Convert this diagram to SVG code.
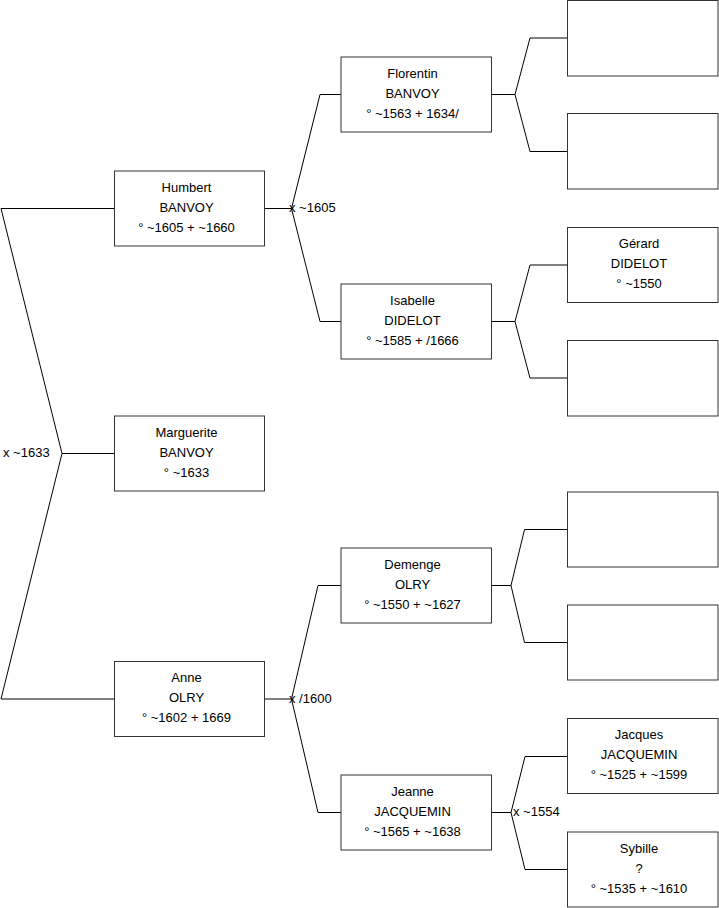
<svg xmlns="http://www.w3.org/2000/svg" width="719" height="908" viewBox="0 0 719 908">
<style>
  .box { fill: #ffffff; stroke: #333333; stroke-width: 1; }
  .conn { fill: none; stroke: #000000; stroke-width: 1; }
  text { font-family: "Liberation Sans", Arial, sans-serif; font-size: 13px; fill: #000000; }
  .c { text-anchor: middle; }
</style>
<rect width="719" height="908" fill="#ffffff"/>
<g id="connectors" class="conn">
  <path d="M1,208.5 H114 M1,208.5 L62,453.5 L1,699 M62,453.5 H114 M1,699 H114"/>
  <path d="M265,208.5 H291.5 M320,94.5 L291.5,208.5 L320,321.5 M320,94.5 H341 M320,321.5 H341"/>
  <path d="M265,699 H291.5 M318,585.5 L291.5,699 L318,812.5 M318,585.5 H341 M318,812.5 H341"/>
  <path d="M492,94.5 H515 M530,38 L515,94.5 L530,151.5 M530,38 H567 M530,151.5 H567"/>
  <path d="M492,321.5 H515 M530,265 L515,321.5 L530,378 M530,265 H567 M530,378 H567"/>
  <path d="M492,585.5 H511 M524.5,529.5 L511,585.5 L524.5,642.5 M524.5,529.5 H567 M524.5,642.5 H567"/>
  <path d="M492,812.5 H511 M525,756.5 L511,812.5 L525,869.5 M525,756.5 H567 M525,869.5 H567"/>
</g>
<g id="union-labels">
  <text x="3" y="457">x ~1633</text>
  <text x="289" y="212">x ~1605</text>
  <text x="289" y="702.5">x /1600</text>
  <text x="513" y="816">x ~1554</text>
</g>
<g id="humbert">
  <rect class="box" x="114.5" y="171" width="150" height="75"/>
  <text class="c" x="186.5" y="191.5">Humbert</text>
  <text class="c" x="186.5" y="211.5">BANVOY</text>
  <text class="c" x="186.5" y="231.5">° ~1605 + ~1660</text>
</g>
<g id="marguerite">
  <rect class="box" x="114.5" y="416" width="150" height="75"/>
  <text class="c" x="186.5" y="436.5">Marguerite</text>
  <text class="c" x="186.5" y="456.5">BANVOY</text>
  <text class="c" x="186.5" y="476.5">° ~1633</text>
</g>
<g id="anne">
  <rect class="box" x="114.5" y="661.5" width="150" height="75"/>
  <text class="c" x="186.5" y="682">Anne</text>
  <text class="c" x="186.5" y="702">OLRY</text>
  <text class="c" x="186.5" y="722">° ~1602 + 1669</text>
</g>
<g id="florentin">
  <rect class="box" x="341" y="57" width="150.5" height="75"/>
  <text class="c" x="412.5" y="77.5">Florentin</text>
  <text class="c" x="412.5" y="97.5">BANVOY</text>
  <text class="c" x="412.5" y="117.5">° ~1563 + 1634/</text>
</g>
<g id="isabelle">
  <rect class="box" x="341" y="284" width="150.5" height="75"/>
  <text class="c" x="412.5" y="304.5">Isabelle</text>
  <text class="c" x="412.5" y="324.5">DIDELOT</text>
  <text class="c" x="412.5" y="344.5">° ~1585 + /1666</text>
</g>
<g id="demenge">
  <rect class="box" x="341" y="548" width="150.5" height="75"/>
  <text class="c" x="412.5" y="568.5">Demenge</text>
  <text class="c" x="412.5" y="588.5">OLRY</text>
  <text class="c" x="412.5" y="608.5">° ~1550 + ~1627</text>
</g>
<g id="jeanne">
  <rect class="box" x="341" y="775" width="150.5" height="75"/>
  <text class="c" x="412.5" y="795.5">Jeanne</text>
  <text class="c" x="412.5" y="815.5">JACQUEMIN</text>
  <text class="c" x="412.5" y="835.5">° ~1565 + ~1638</text>
</g>
<g id="empty-1"><rect class="box" x="567.5" y="0.5" width="150.5" height="75.5"/></g>
<g id="empty-2"><rect class="box" x="567.5" y="113.5" width="150.5" height="75.5"/></g>
<g id="gerard">
  <rect class="box" x="567.5" y="227.5" width="150.5" height="75"/>
  <text class="c" x="639" y="248">Gérard</text>
  <text class="c" x="639" y="268">DIDELOT</text>
  <text class="c" x="639" y="288">° ~1550</text>
</g>
<g id="empty-3"><rect class="box" x="567.5" y="340.5" width="150.5" height="75.5"/></g>
<g id="empty-4"><rect class="box" x="567.5" y="492" width="150.5" height="75"/></g>
<g id="empty-5"><rect class="box" x="567.5" y="605" width="150.5" height="75"/></g>
<g id="jacques">
  <rect class="box" x="567.5" y="718.5" width="150.5" height="75"/>
  <text class="c" x="639" y="739">Jacques</text>
  <text class="c" x="639" y="759">JACQUEMIN</text>
  <text class="c" x="639" y="779">° ~1525 + ~1599</text>
</g>
<g id="sybille">
  <rect class="box" x="567.5" y="832" width="150.5" height="75"/>
  <text class="c" x="639" y="852.5">Sybille</text>
  <text class="c" x="639" y="872.5">?</text>
  <text class="c" x="639" y="892.5">° ~1535 + ~1610</text>
</g>
</svg>
